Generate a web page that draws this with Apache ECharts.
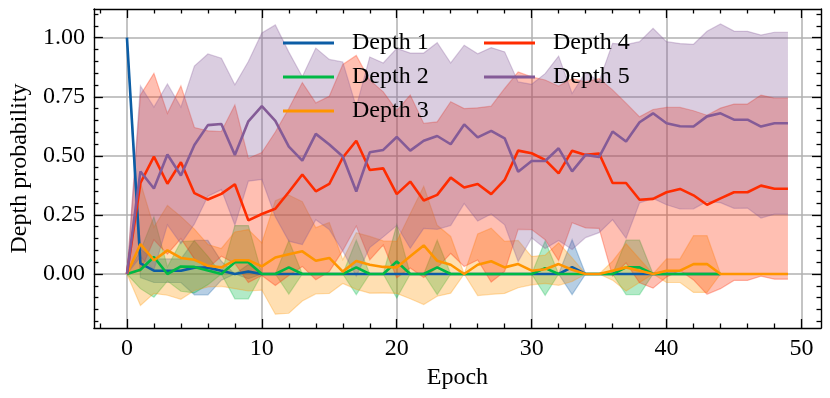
<!DOCTYPE html>
<html><head><meta charset="utf-8">
<script src="https://cdn.jsdelivr.net/npm/echarts@6/dist/echarts.min.js"></script>
<style>html,body{margin:0;padding:0;background:#fff}#c{width:830px;height:398px}</style>
</head><body><div id="c"></div>
<script>
const epochs = [0,1,2,3,4,5,6,7,8,9,10,11,12,13,14,15,16,17,18,19,20,21,22,23,24,25,26,27,28,29,30,31,32,33,34,35,36,37,38,39,40,41,42,43,44,45,46,47,48,49];
const depthNames = ['Depth 1','Depth 2','Depth 3','Depth 4','Depth 5'];
const colors = ['#0C5DA5','#00B945','#FF9500','#FF2C00','#845B97'];

// Depth 1 (45 epochs)
const d1Mean = [1.0,0.045,0.014,0.014,0.014,0.027,0.027,0.014,0,0.01,0,0,0,0,0,0,0,0,0,0,0,0,0,0,0,0,0,0,0,0,0,0,0,0.029,0,0,0,0,0,0,0,0,0,0,0];
const d1Std  = [0,0.06,0.05,0.05,0.05,0.115,0.115,0.04,0,0.03,0,0,0,0,0,0,0,0,0,0,0,0,0,0,0,0,0,0,0,0,0,0,0,0.116,0,0,0,0,0,0,0,0,0,0,0];
// Depth 2 (45 epochs)
const d2Mean = [0,0.018,0.072,0,0.032,0.03,0.015,0,0.05,0.05,0,0,0.028,0,0,0,0,0.028,0,0,0.053,0,0,0.028,0,0,0,0,0,0,0,0.025,0,0,0,0,0,0.028,0.028,0,0,0,0,0,0];
const d2Std  = [0,0.08,0.17,0.03,0.105,0.11,0.06,0,0.155,0.155,0,0,0.113,0,0,0,0,0.115,0,0,0.155,0,0,0.115,0,0,0,0,0,0,0,0.115,0,0,0,0,0,0.115,0.115,0,0,0,0,0,0];
// Depth 3
const d3Mean = [0,0.127,0.058,0.10,0.068,0.06,0.035,0.028,0.058,0.058,0.032,0.07,0.084,0.096,0.056,0.068,0.01,0.055,0.039,0.03,0.028,0.075,0.121,0.056,0.039,0,0.039,0.054,0.028,0.042,0.014,0.02,0.042,0.018,0,0,0.014,0.028,0.014,0,0.014,0.014,0.042,0.042,0,0,0,0,0,0];
const d3Std  = [0,0.26,0.14,0.19,0.175,0.13,0.09,0.08,0.12,0.13,0.10,0.24,0.25,0.21,0.14,0.15,0.05,0.12,0.12,0.11,0.11,0.18,0.25,0.15,0.12,0,0.13,0.14,0.11,0.10,0.06,0.06,0.09,0.05,0,0,0.04,0.10,0.05,0,0.05,0.05,0.12,0.12,0,0,0,0,0,0];
// Depth 4
const d4Mean = [0,0.385,0.497,0.382,0.473,0.342,0.315,0.339,0.380,0.227,0.254,0.276,0.347,0.421,0.350,0.381,0.493,0.564,0.440,0.447,0.338,0.391,0.311,0.335,0.408,0.366,0.381,0.338,0.398,0.522,0.511,0.483,0.426,0.522,0.504,0.510,0.385,0.385,0.314,0.318,0.346,0.360,0.333,0.293,0.320,0.346,0.346,0.374,0.361,0.361];
const d4Std  = [0,0.373,0.352,0.298,0.323,0.278,0.291,0.264,0.335,0.263,0.26,0.325,0.353,0.389,0.374,0.371,0.394,0.361,0.380,0.324,0.354,0.366,0.326,0.309,0.321,0.334,0.322,0.372,0.387,0.333,0.323,0.338,0.369,0.305,0.309,0.317,0.394,0.338,0.351,0.378,0.359,0.345,0.358,0.379,0.382,0.373,0.373,0.383,0.383,0.383];
// Depth 5
const d5Mean = [0,0.434,0.362,0.506,0.417,0.546,0.630,0.635,0.504,0.646,0.710,0.648,0.539,0.480,0.593,0.548,0.497,0.349,0.515,0.525,0.580,0.522,0.564,0.584,0.549,0.633,0.578,0.606,0.574,0.433,0.478,0.478,0.532,0.434,0.504,0.495,0.603,0.561,0.642,0.680,0.638,0.625,0.624,0.667,0.680,0.653,0.653,0.624,0.638,0.638];
const d5Std  = [0,0.362,0.344,0.298,0.289,0.334,0.301,0.278,0.297,0.253,0.31,0.406,0.40,0.355,0.363,0.36,0.40,0.358,0.403,0.368,0.375,0.413,0.371,0.395,0.344,0.335,0.354,0.352,0.366,0.38,0.325,0.37,0.39,0.33,0.35,0.32,0.373,0.41,0.341,0.36,0.345,0.35,0.348,0.36,0.378,0.375,0.374,0.387,0.385,0.385];

const xTicks = [0,10,20,30,40,50];
const xMinorTicks = [-2,2,4,6,8,12,14,16,18,22,24,26,28,32,34,36,38,42,44,46,48];
const yTicks = [0,0.25,0.5,0.75,1.0];
const yMinorTicks = [-0.2,-0.15,-0.1,-0.05,0.05,0.1,0.15,0.2,0.3,0.35,0.4,0.45,0.55,0.6,0.65,0.7,0.8,0.85,0.9,0.95,1.05,1.1];

const FONT = 'Liberation Serif';
const means = [d1Mean,d2Mean,d3Mean,d4Mean,d5Mean];
const stds = [d1Std,d2Std,d3Std,d4Std,d5Std];

function hexA(hex, a){
  const n = parseInt(hex.slice(1),16);
  return 'rgba('+((n>>16)&255)+','+((n>>8)&255)+','+(n&255)+','+a+')';
}

const series = [];
means.forEach((m,k)=>{
  const rows = m.map((v,i)=>[epochs[i], v - stds[k][i], v + stds[k][i]]);
  series.push({
    type:'custom', name:depthNames[k]+' band', silent:true, z:1,
    data: rows,
    encode:{x:0, y:[1,2]},
    renderItem:function(params, api){
      if (params.dataIndex !== 0) return null;
      const lo = rows.map(r=>api.coord([r[0], r[1]]));
      const hi = rows.map(r=>api.coord([r[0], r[2]]));
      const poly = lo.concat(hi.slice().reverse());
      return {type:'group', children:[
        {type:'polygon', shape:{points:poly}, style:{fill:hexA(colors[k],0.3), stroke:null}},
        {type:'polyline', shape:{points:lo}, style:{fill:null, stroke:hexA(colors[k],0.3), lineWidth:1.2}},
        {type:'polyline', shape:{points:hi}, style:{fill:null, stroke:hexA(colors[k],0.3), lineWidth:1.2}}
      ]};
    }
  });
});
means.forEach((m,k)=>{
  series.push({type:'line', name:depthNames[k], data:m.map((v,i)=>[epochs[i], v]), symbol:'none',
    lineStyle:{color:colors[k], width:2.6}, itemStyle:{color:colors[k]}, z:3});
});

const axisCol = '#000';
function xAx(pos, vals, len, main){
  return {type:'value', position:pos, min:-2.45, max:51.45,
    axisLine:{show:main, onZero:false, lineStyle:{color:axisCol, width:1.4}},
    axisTick:{show:true, inside:true, length:len, customValues:vals, lineStyle:{color:axisCol, width:1.3}},
    axisLabel:{show: main && pos==='bottom', customValues:vals, margin:9, fontFamily:FONT, fontSize:24, color:'#000',
      formatter:v=>String(Math.round(v))},
    splitLine:{show: main && pos==='bottom', lineStyle:{color:'#b0b0b0', width:1.5}},
    name: (main && pos==='bottom') ? 'Epoch' : '', nameLocation:'middle', nameGap:38,
    nameTextStyle:{fontFamily:FONT, fontSize:24, color:'#000'}};
}
function yAx(pos, vals, len, main){
  return {type:'value', position:pos, min:-0.2285, max:1.1214,
    axisLine:{show:main, onZero:false, lineStyle:{color:axisCol, width:1.4}},
    axisTick:{show:true, inside:true, length:len, customValues:vals, lineStyle:{color:axisCol, width:1.3}},
    axisLabel:{show: main && pos==='left', customValues:vals, margin:9, fontFamily:FONT, fontSize:24, color:'#000',
      formatter:v=>v.toFixed(2)},
    splitLine:{show: main && pos==='left', lineStyle:{color:'#b0b0b0', width:1.5}},
    name: (main && pos==='left') ? 'Depth probability' : '', nameLocation:'middle', nameGap:60,
    nameTextStyle:{fontFamily:FONT, fontSize:24, color:'#000'}};
}

const legendCommon = {orient:'vertical', icon:'rect', itemWidth:51, itemHeight:3, itemGap:10,
  itemStyle:{borderWidth:0},
  textStyle:{fontFamily:FONT, fontSize:24, color:'#000', lineHeight:24, padding:[0,0,0,13]}, selectedMode:false};

const option = {
  animation:false,
  backgroundColor:'#fff',
  grid:{left:90, right:9, top:9, bottom:70, containLabel:false},
  xAxis:[xAx('bottom',xTicks,9,true), xAx('bottom',xMinorTicks,4.5,false), xAx('top',xTicks,9,true), xAx('top',xMinorTicks,4.5,false)],
  yAxis:[yAx('left',yTicks,9,true), yAx('left',yMinorTicks,4.5,false), yAx('right',yTicks,9,true), yAx('right',yMinorTicks,4.5,false)],
  legend:[
    Object.assign({}, legendCommon, {data:depthNames.slice(0,3), left:278, top:26}),
    Object.assign({}, legendCommon, {data:depthNames.slice(3), left:479, top:26})
  ],
  series:series
};
const chart = echarts.init(document.getElementById('c'), null, {renderer:'canvas'});
chart.setOption(option);
</script></body></html>
